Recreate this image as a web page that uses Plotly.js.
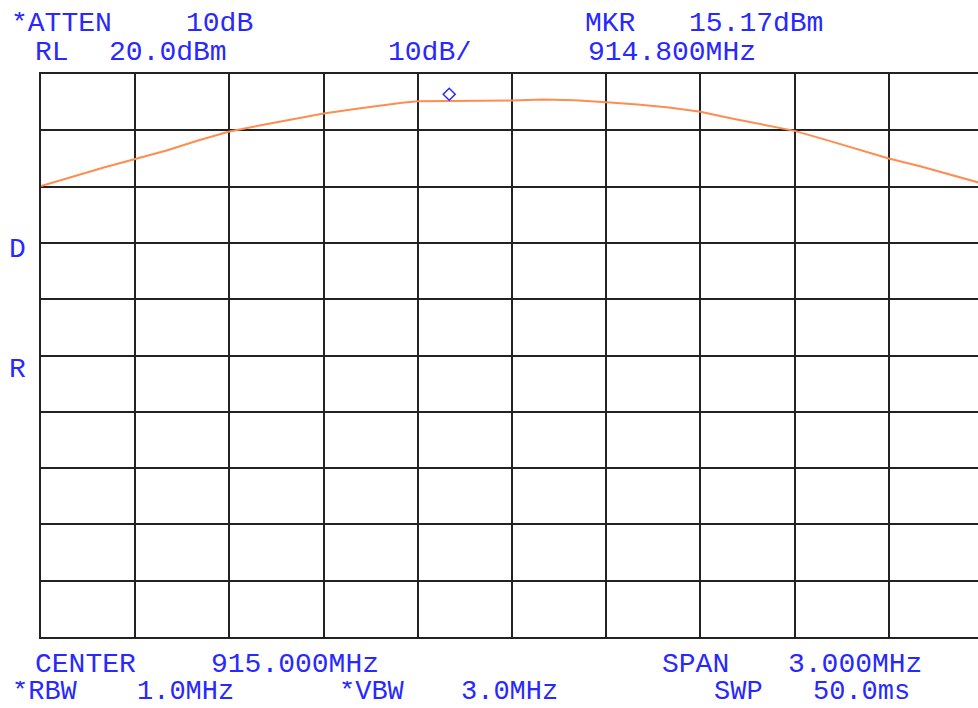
<!DOCTYPE html>
<html>
<head>
<meta charset="utf-8">
<script src="https://cdn.plot.ly/plotly-3.0.1.min.js"></script>
<style>
html, body { margin: 0; padding: 0; overflow: hidden; background: #fff; }
#chart { width: 978px; height: 708px; }
</style>
</head>
<body>
<div id="chart"></div>
<script>
// Frequency (MHz) of trace samples
const freqMHz = [913.5, 913.6, 913.7, 913.8, 913.9, 914.0, 914.1, 914.2, 914.3, 914.4,
                 914.5, 914.6, 914.65, 914.7, 914.8, 914.85, 914.9, 914.95, 915.0, 915.1,
                 915.2, 915.3, 915.4, 915.5, 915.6, 915.7, 915.8, 915.9, 916.0, 916.1,
                 916.2, 916.3, 916.4, 916.5];
// Trace amplitude (dBm)
const levelDBm = [0.1, 1.8, 3.4, 4.9, 6.4, 8.2, 9.8, 10.9, 12.0, 13.0,
                  13.8, 14.6, 14.9, 15.15, 15.2, 15.3, 15.2, 15.35, 15.3, 15.45,
                  15.35, 15.0, 14.6, 14.05, 13.3, 12.1, 11.0, 9.9, 8.3, 6.6,
                  5.0, 3.6, 2.1, 0.5];
// Marker
const markerFreq = 914.8;
const markerLevel = 15.17;

// Instrument settings
const refLevel = 20.0;   // dBm
const dbPerDiv = 10;
const centerMHz = 915.0;
const spanMHz = 3.0;

// Screen annotation texts
const labelTexts = ["*ATTEN", "10dB", "MKR", "15.17dBm",
                    "RL", "20.0dBm", "10dB/", "914.800MHz",
                    "CENTER", "915.000MHz", "SPAN", "3.000MHz",
                    "*RBW", "1.0MHz", "*VBW", "3.0MHz", "SWP", "50.0ms",
                    "D", "R"];
// pixel positions (left x, vertical centre y, font size)
const labelPos = [[10, 23, 28], [185, 23, 28], [584, 23, 28], [688, 23, 28],
                  [34, 52, 28], [108, 52, 28], [387, 52, 28], [587, 52, 28],
                  [34, 664, 28], [210, 664, 28], [661, 664, 28], [787, 664, 28],
                  [11, 692, 27], [136, 692, 27], [338, 692, 27], [460, 692, 27], [713, 692, 27], [812, 692, 27],
                  [8, 249, 28], [8, 369, 28]];

const W = 978, H = 708;
const L = 41, T = 74, B = 637, R = 978;
const fullRight = 983; // where the 10th division would end
const fStart = centerMHz - spanMHz / 2;
const fEndVisible = fStart + spanMHz * (R - L) / (fullRight - L);

const blue = 'rgb(40,40,255)';
const annotations = labelTexts.map((t, i) => ({
  text: t,
  xref: 'paper', yref: 'paper',
  x: (labelPos[i][0] - L) / (R - L),
  y: (B - labelPos[i][1]) / (B - T),
  xanchor: 'left', yanchor: 'middle',
  height: 22, valign: 'middle', borderpad: 0,
  showarrow: false,
  align: 'left',
  font: { family: 'Liberation Mono, Courier New, monospace', size: labelPos[i][2], color: blue }
}));

const data = [{
  x: freqMHz, y: levelDBm,
  type: 'scatter', mode: 'lines',
  line: { color: 'rgb(255,140,80)', width: 2 },
  hoverinfo: 'skip'
}];

const layout = {
  width: W, height: H,
  margin: { l: L, r: W - R, t: T, b: H - B, pad: 0 },
  paper_bgcolor: '#fff', plot_bgcolor: '#fff',
  showlegend: false,
  xaxis: {
    range: [fStart, fEndVisible],
    tick0: fStart, dtick: spanMHz / 10,
    showgrid: true, gridcolor: '#222', gridwidth: 2,
    showline: true, linecolor: '#222', linewidth: 2, mirror: true,
    showticklabels: false, ticks: '', zeroline: false, fixedrange: true
  },
  yaxis: {
    range: [refLevel - 10 * dbPerDiv, refLevel],
    tick0: refLevel, dtick: dbPerDiv,
    showgrid: true, gridcolor: '#222', gridwidth: 2,
    showline: true, linecolor: '#222', linewidth: 2, mirror: false,
    showticklabels: false, ticks: '', zeroline: false, fixedrange: true
  },
  annotations: annotations,
  shapes: [{
    type: 'path', layer: 'above',
    xref: 'x', yref: 'y',
    xsizemode: 'pixel', ysizemode: 'pixel',
    xanchor: markerFreq, yanchor: markerLevel,
    path: 'M -6 7 L 0 13 L 6 7 L 0 1 Z',
    line: { color: blue, width: 1.5 },
    fillcolor: 'rgba(0,0,0,0)'
  }]
};

Plotly.newPlot('chart', data, layout, { staticPlot: true, displayModeBar: false });
</script>
</body>
</html>
